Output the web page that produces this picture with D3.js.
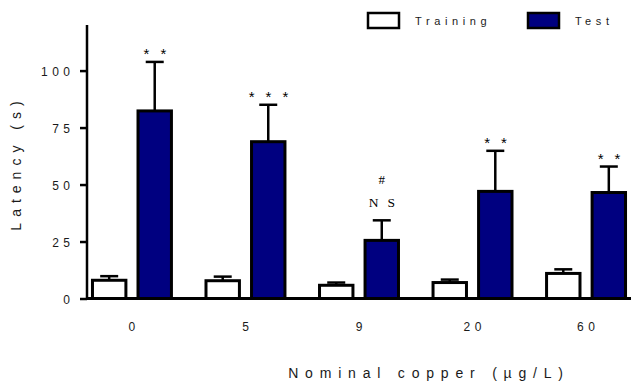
<!DOCTYPE html>
<html>
<head>
<meta charset="utf-8">
<script src="https://cdn.jsdelivr.net/npm/d3@7"></script>
<style>
  body { margin: 0; background: #fff; }
  text { font-family: "Liberation Sans", Arial, sans-serif; fill: #1a1a1a; }
</style>
</head>
<body>
<div id="chart"></div>
<script>
// data
const groups = ["0", "5", "9", "20", "60"];
const series = ["Training", "Test"];
const trainingMean = [8, 7.8, 5.8, 7, 11];
const trainingSem = [1.8, 1.8, 1.2, 1.3, 1.8];
const testMean = [82.3, 68.8, 25.5, 47, 46.5];
const testSem = [21.5, 16.2, 8.8, 17.8, 11.4];
const sigLabels = ["**", "***", "NS", "**", "**"];
const hashLabels = ["", "", "#", "", ""];
const yTicks = [0, 25, 50, 75, 100];

const width = 631, height = 384;
const margin = {top: 25, right: 0, bottom: 85, left: 87};

const svg = d3.select("#chart")
  .append("svg")
    .attr("width", width)
    .attr("height", height);

const x0 = d3.scaleBand()
  .domain(groups)
  .range([margin.left, width - margin.right])
  .paddingInner(0.278)
  .paddingOuter(0.035);

const x1 = d3.scaleBand()
  .domain(series)
  .range([0, x0.bandwidth()])
  .paddingInner(0.2);

const y = d3.scaleLinear()
  .domain([0, 120])
  .range([height - margin.bottom - 0.5, margin.top]);

const colors = {Training: "#ffffff", Test: "#000080"};

const rows = groups.map((g, i) => ({
  group: g,
  values: [
    {key: "Training", mean: trainingMean[i], sem: trainingSem[i]},
    {key: "Test", mean: testMean[i], sem: testSem[i]}
  ]
}));

const g = svg.selectAll("g.grp")
  .data(rows)
  .enter()
  .append("g")
    .attr("class", "grp")
    .attr("transform", d => "translate(" + x0(d.group) + ",0)");

const bar = g.selectAll("g.bar")
  .data(d => d.values)
  .enter()
  .append("g");

// error bars (upper only)
bar.append("line")
  .attr("x1", d => x1(d.key) + x1.bandwidth() / 2)
  .attr("x2", d => x1(d.key) + x1.bandwidth() / 2)
  .attr("y1", d => y(d.mean))
  .attr("y2", d => y(d.mean + d.sem))
  .attr("stroke", "#000")
  .attr("stroke-width", 2.5);

bar.append("line")
  .attr("x1", d => x1(d.key) + x1.bandwidth() / 2 - 9)
  .attr("x2", d => x1(d.key) + x1.bandwidth() / 2 + 9)
  .attr("y1", d => y(d.mean + d.sem))
  .attr("y2", d => y(d.mean + d.sem))
  .attr("stroke", "#000")
  .attr("stroke-width", 2.5);

bar.append("rect")
  .attr("x", d => x1(d.key) + 1.5)
  .attr("y", d => y(d.mean))
  .attr("width", x1.bandwidth() - 3)
  .attr("height", d => y(0) - y(d.mean))
  .attr("fill", d => colors[d.key])
  .attr("stroke", "#000")
  .attr("stroke-width", 3);

// significance labels over the Test bars
const testCenter = x1("Test") + x1.bandwidth() / 2;
g.append("text")
  .attr("x", (d, i) => testCenter + (sigLabels[i] === "NS" ? 4.5 : 5.75))
  .attr("y", (d, i) => y(testMean[i] + testSem[i]) + (sigLabels[i] === "NS" ? -13 : -2.5))
  .attr("text-anchor", "middle")
  .style("font-family", (d, i) => sigLabels[i] === "NS"
    ? "'Liberation Serif', 'Times New Roman', serif"
    : "'Liberation Sans', Arial, sans-serif")
  .style("font-size", (d, i) => sigLabels[i] === "NS" ? "13.5px" : "15px")
  .style("letter-spacing", (d, i) => sigLabels[i] === "NS" ? "9px" : "11px")
  .style("fill", "#000")
  .text((d, i) => sigLabels[i]);

g.append("text")
  .attr("x", testCenter)
  .attr("y", (d, i) => y(testMean[i] + testSem[i]) - 36)
  .attr("text-anchor", "middle")
  .style("font-family", "'Liberation Serif', 'Times New Roman', serif")
  .style("font-size", "13px")
  .style("fill", "#000")
  .text((d, i) => hashLabels[i]);

// y axis
const yAxis = svg.append("g")
  .attr("transform", "translate(" + margin.left + ",0)")
  .call(d3.axisLeft(y).tickValues(yTicks).tickSize(7).tickPadding(10));
yAxis.select(".domain")
  .attr("d", "M0," + y(0) + "V" + margin.top)
  .attr("stroke-width", 2.5);
yAxis.selectAll(".tick line").attr("stroke-width", 2.5);
yAxis.selectAll(".tick text")
  .style("font-size", "12px")
  .style("letter-spacing", "4.5px")
  .attr("dx", "4.5px")
  .attr("dy", "0.4em");

// x axis
const xAxis = svg.append("g")
  .attr("transform", "translate(0," + y(0) + ")")
  .call(d3.axisBottom(x0).tickSize(0).tickPadding(24));
xAxis.select(".domain")
  .attr("d", "M" + margin.left + ",0H" + width)
  .attr("stroke-width", 3);
xAxis.selectAll(".tick text")
  .style("font-size", "12px")
  .style("letter-spacing", "4.5px")
  .attr("dx", "2.25px");

// axis titles
svg.append("text")
  .attr("transform", "translate(21,163) rotate(-90)")
  .attr("text-anchor", "middle")
  .style("font-size", "14px")
  .style("letter-spacing", "6px")
  .text("Latency (s)");

svg.append("text")
  .attr("x", 429)
  .attr("y", 378)
  .attr("text-anchor", "middle")
  .style("font-size", "14px")
  .style("letter-spacing", "6.8px")
  .text("Nominal copper (\u00b5g/L)");

// legend
const legendX = [368, 528];
const legend = svg.selectAll("g.legend")
  .data(series)
  .enter()
  .append("g")
    .attr("transform", (d, i) => "translate(" + legendX[i] + ",13)");

legend.append("rect")
  .attr("width", 31)
  .attr("height", 15)
  .attr("fill", d => colors[d])
  .attr("stroke", "#000")
  .attr("stroke-width", 2.5);

legend.append("text")
  .attr("x", 47)
  .attr("y", 12)
  .style("font-size", "11px")
  .style("letter-spacing", "4.6px")
  .text(d => d);
</script>
</body>
</html>
